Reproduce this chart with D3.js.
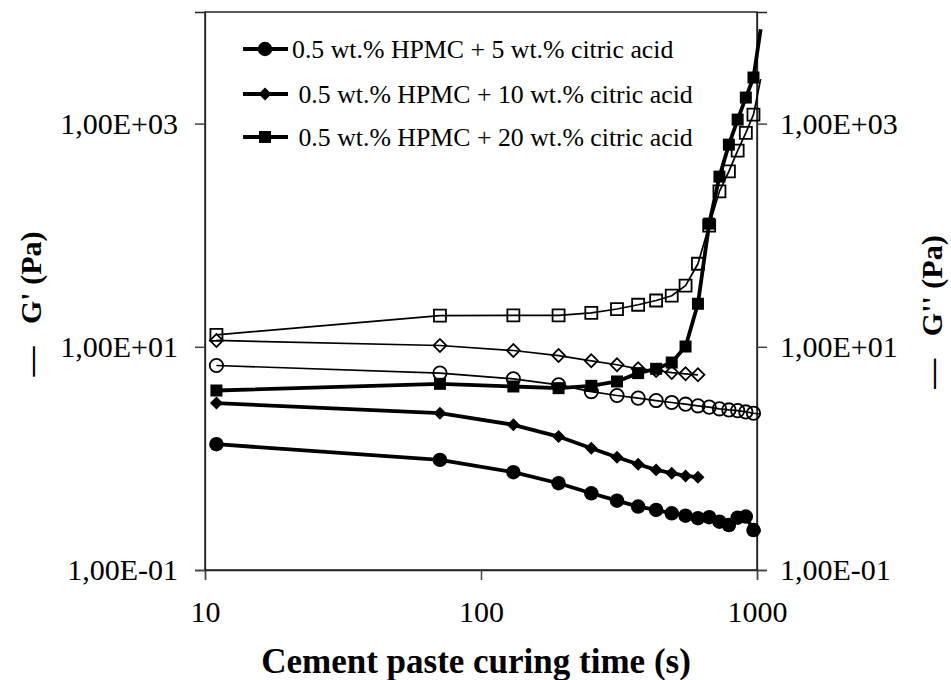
<!DOCTYPE html>
<html><head><meta charset="utf-8">
<script src="https://cdn.jsdelivr.net/npm/d3@7"></script>
<style>
body{margin:0;background:#fff}
svg{display:block}
text{font-family:"Liberation Serif","Times New Roman",serif;fill:#000}
</style>
</head><body>
<svg id="chart" width="951" height="680"></svg>
<script>
// ---- data ----
const time5  = [11,71,131,191,251,311,371,431,491,551,611,671,731,791,851,911,971];
const g1_5   = [1.34,0.97,0.752,0.599,0.487,0.418,0.370,0.345,0.322,0.307,0.291,0.297,0.271,0.253,0.294,0.301,0.228];
const g2_5   = [6.80,5.81,5.16,4.56,3.97,3.66,3.47,3.30,3.17,3.06,2.96,2.88,2.78,2.72,2.68,2.61,2.54];
const time10 = [11,71,131,191,251,311,371,431,491,551,611];
const g1_10  = [3.13,2.54,2.00,1.57,1.235,1.025,0.887,0.789,0.737,0.697,0.678];
const g2_10  = [11.4,10.27,9.26,8.35,7.49,6.90,6.35,6.13,5.88,5.73,5.61];
const time20 = [11,71,131,191,251,311,371,431,491,551,611,671,731,791,851,911,971];
const g1_20  = [4.06,4.66,4.41,4.26,4.47,4.89,5.81,6.35,7.23,10.06,24.3,127,335,648,1086,1711,2587];
const g2_20  = [12.8,19.0,19.1,19.1,20.1,21.8,23.8,26.0,28.7,35.3,55.5,122,247,373,573,825,1205];
// continuation of the curves just past the last plotted marker (line only)
const tailTime = 1031;
const tail = {g1_5:0.225, g2_5:2.50, g1_20:7000, g2_20:2500};

const legendLabels = ["0.5 wt.% HPMC + 5 wt.% citric acid",
                      " 0.5 wt.% HPMC + 10 wt.% citric acid",
                      " 0.5 wt.% HPMC + 20 wt.% citric acid"];
const xTickValues = [10,100,1000];
const xTickLabels = ["10","100","1000"];
const yTickValues = [0.1,10,1000];
const yTickLabels = ["1,00E-01","1,00E+01","1,00E+03"];
const xTitle = "Cement paste curing time (s)";
const yTitleLeft = "\u2014   G' (Pa)";
const yTitleRight = "\u2014   G'' (Pa)";

// ---- layout ----
const L=205, R=757, T=12, B=570;
const svg = d3.select("#chart");
const x = d3.scaleLog().domain([10,1000]).range([L,R]);
const y = d3.scaleLog().domain([0.1,10000]).range([B,T]);

svg.append("defs").append("clipPath").attr("id","clip")
  .append("rect").attr("x",L-12).attr("y",T).attr("width",R-L+20).attr("height",B-T+12);

// frame
svg.append("rect").attr("x",L).attr("y",T).attr("width",R-L).attr("height",B-T)
  .attr("fill","none").attr("stroke","#000").attr("stroke-width",1.3);

// axes
const tickCol = "#444";
const xAx = svg.append("g").attr("transform",`translate(0,${B})`)
  .call(d3.axisBottom(x).tickValues(xTickValues).tickSize(10).tickFormat((d,i)=>xTickLabels[i]));
const yAxL = svg.append("g").attr("transform",`translate(${L},0)`)
  .call(d3.axisLeft(y).tickValues(yTickValues).tickSize(10).tickFormat((d,i)=>yTickLabels[i]));
const yAxR = svg.append("g").attr("transform",`translate(${R},0)`)
  .call(d3.axisRight(y).tickValues(yTickValues).tickSize(10).tickFormat((d,i)=>yTickLabels[i]));
[xAx,yAxL,yAxR].forEach(a=>{
  a.select(".domain").attr("stroke","#222").attr("stroke-width",1.3);
  a.selectAll(".tick line").attr("stroke",tickCol).attr("stroke-width",1.5);
  a.selectAll(".tick text").attr("font-family","Liberation Serif").attr("font-size",30).attr("fill","#000");
});
xAx.selectAll(".tick text").attr("y",31);
yAxL.selectAll(".tick text").attr("x",-27);
yAxR.selectAll(".tick text").attr("x",23);

// titles
svg.append("text").attr("x",476).attr("y",673).attr("text-anchor","middle")
  .attr("font-size",35).attr("font-weight","bold").text(xTitle);
svg.append("text").attr("transform","translate(41,304) rotate(-90)").attr("text-anchor","middle")
  .attr("font-size",30).attr("font-weight","bold").style("white-space","pre").text(yTitleLeft);
svg.append("text").attr("transform","translate(942,312) rotate(-90)").attr("text-anchor","middle")
  .attr("font-size",30).attr("font-weight","bold").style("white-space","pre").text(yTitleRight);

// series
const plot = svg.append("g");
const line = d3.line().x(d=>x(d[0])).y(d=>y(d[1]));
function pts(t,v){return t.map((d,i)=>[d,v[i]]);}

const series = [
  {t:time5,  v:g1_5,  tail:tail.g1_5,  type:"circle",  filled:true},
  {t:time5,  v:g2_5,  tail:tail.g2_5,  type:"circle",  filled:false},
  {t:time10, v:g1_10, tail:null,       type:"diamond", filled:true},
  {t:time10, v:g2_10, tail:null,       type:"diamond", filled:false},
  {t:time20, v:g1_20, tail:tail.g1_20, type:"square",  filled:true},
  {t:time20, v:g2_20, tail:tail.g2_20, type:"square",  filled:false},
];
const symSize = {circle:{f:165,o:140}, square:{f:144,o:144}, diamond:{f:84,o:84}};
function symbolPath(type,filled){
  const s = symSize[type][filled?"f":"o"];
  return d3.symbol().type(type==="circle"?d3.symbolCircle:d3.symbolSquare).size(s)();
}
function drawMarker(g,type,filled,px,py){
  g.append("path").attr("d",symbolPath(type,filled))
    .attr("transform",`translate(${px},${py})`+(type==="diamond"?" rotate(45)":""))
    .attr("fill",filled?"#000":"none").attr("stroke","#000").attr("stroke-width",filled?0:1.8);
}
// thin (G'') first, then thick (G')
const order = [1,3,5,0,2,4];
order.forEach(k=>{
  const s = series[k];
  let p = pts(s.t,s.v);
  const lp = s.tail!==null ? p.concat([[tailTime,s.tail]]) : p;
  plot.append("path").attr("clip-path","url(#clip)").attr("d",line(lp))
    .attr("fill","none").attr("stroke","#000").attr("stroke-width",s.filled?3.8:1.7)
    .attr("stroke-linejoin","round");
  const mg = plot.append("g");
  p.forEach(d=>drawMarker(mg,s.type,s.filled,x(d[0]),y(d[1])));
});

// legend
const lg = svg.append("g");
const legY = [49,94,137];
const legTypes = ["circle","diamond","square"];
legendLabels.forEach((lab,i)=>{
  lg.append("line").attr("x1",243).attr("x2",288).attr("y1",legY[i]).attr("y2",legY[i])
    .attr("stroke","#000").attr("stroke-width",3.8);
  drawMarker(lg,legTypes[i],true,265,legY[i]);
  lg.append("text").attr("x",292).attr("y",legY[i]+9).attr("font-size",25.8)
    .style("white-space","pre").text(lab);
});
</script>
</body></html>
